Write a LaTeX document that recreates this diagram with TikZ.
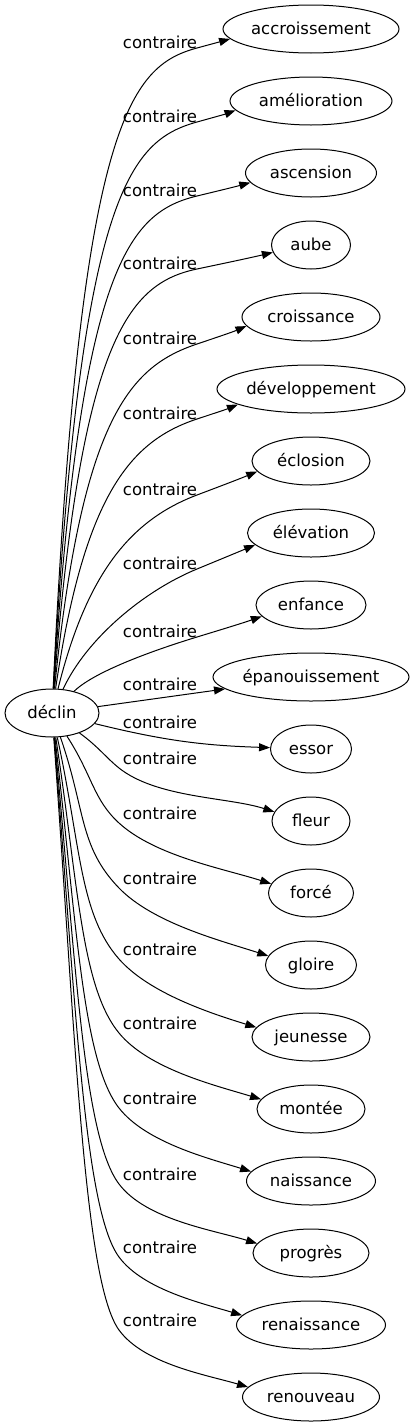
\documentclass[tikz,border=0pt]{standalone}
\usepackage{fontspec}
\setmainfont{DejaVu Sans}
\usetikzlibrary{shapes.geometric,arrows.meta}
% upper edge: #1 target, #2 label y, #3 target y, #4 target width, #5 tip offset below centre
\newcommand\upedge[5]{%
 \pgfmathsetmacro\eMy{#2+7}%
 \pgfmathsetmacro\eD{689-\eMy}%
 \pgfmathsetmacro\eSx{55+40*exp(-\eD/120)}%
 \pgfmathsetmacro\eAl{atan(\eD/40)}%
 \pgfmathsetmacro\eFr{max(0.44,0.9-0.46*exp(-(\eD-122)/150))}%
 \pgfmathsetmacro\eLa{\eFr*\eD}%
 \pgfmathsetmacro\eCax{\eSx+min(25,\eLa*cos(\eAl))}%
 \pgfmathsetmacro\eCay{689-\eLa*sin(\eAl)}%
 \pgfmathsetmacro\eAx{311-sqrt(1-(#5/24.5)^2)*(#4/2+0.5)}%
 \pgfmathsetmacro\eAy{#3+#5}%
 \pgfmathtruncatemacro\eAng{180+atan(#5/(311-\eAx))}%
 \pgfmathsetmacro\eTh{min(28,atan((\eMy-\eAy)/(\eAx-197)))}%
 \pgfmathsetmacro\eLb{min(70,0.25*\eD+28)}%
 \pgfmathsetmacro\eCbx{197-\eLb*cos(\eTh)}%
 \pgfmathsetmacro\eCby{\eMy+\eLb*sin(\eTh)}%
 \pgfmathsetmacro\eLL{veclen(\eAx-197,\eAy-\eMy)}%
 \pgfmathsetmacro\eCcx{197+0.33*\eLL*cos(\eTh)}%
 \pgfmathsetmacro\eCcy{\eMy-0.33*\eLL*sin(\eTh)}%
 \pgfmathsetmacro\eCdx{\eAx-0.3*\eLL*cos(\eTh)}%
 \pgfmathsetmacro\eCdy{\eAy+0.3*\eLL*sin(\eTh)}%
 \coordinate (m#1) at (197,\eMy);
 \draw[edge] (declin) .. controls (\eCax,\eCay) and (\eCbx,\eCby) .. (m#1)
   .. controls (\eCcx,\eCcy) and (\eCdx,\eCdy) .. (#1.\eAng);
 \node[lab] (l#1) at (160,#2+1.5) {contraire};
}
% lower edge
\newcommand\downedge[4]{%
 \pgfmathsetmacro\eMy{#2+11}%
 \pgfmathsetmacro\eD{\eMy-737}%
 \pgfmathsetmacro\eSx{55+40*exp(-\eD/120)}%
 \pgfmathsetmacro\eAl{atan(\eD/40)}%
 \pgfmathsetmacro\eLa{0.5*\eD}%
 \pgfmathsetmacro\eCax{\eSx+min(25,\eLa*cos(\eAl))}%
 \pgfmathsetmacro\eCay{737+\eLa*sin(\eAl)}%
 \pgfmathsetmacro\eBe{40+15*(1-exp(-(\eD-50)/200))}%
 \pgfmathsetmacro\eLb{min(60,0.35*\eD+5)}%
 \pgfmathsetmacro\eCbx{119-\eLb*cos(\eBe)}%
 \pgfmathsetmacro\eCby{\eMy-\eLb*sin(\eBe)}%
 \pgfmathsetmacro\eAx{311-0.927*(#4/2+0.5)}%
 \pgfmathsetmacro\eAy{#3-9}%
 \pgfmathtruncatemacro\eAng{180-atan(9/(311-\eAx))}%
 \pgfmathsetmacro\eLL{veclen(\eAx-119,\eAy-\eMy)}%
 \pgfmathsetmacro\eCcx{119+0.3*\eLL*cos(\eBe)}%
 \pgfmathsetmacro\eCcy{\eMy+0.3*\eLL*sin(\eBe)}%
 \pgfmathsetmacro\eCdx{\eAx-0.3*\eLL*cos(18)}%
 \pgfmathsetmacro\eCdy{\eAy-0.3*\eLL*sin(18)}%
 \coordinate (m#1) at (119,\eMy);
 \draw[edge] (declin) .. controls (\eCax,\eCay) and (\eCbx,\eCby) .. (m#1)
   .. controls (\eCcx,\eCcy) and (\eCdx,\eCdy) .. (#1.\eAng);
 \node[lab] (l#1) at (160,#2+1.5) {contraire};
}
\begin{document}
\begin{tikzpicture}[x=1pt,y=-1pt,
  font=\fontsize{16.5}{19}\selectfont,
  term/.style={ellipse,draw,line width=1pt,minimum height=48pt,inner sep=0pt,
    text height=14pt,text depth=3pt},
  lab/.style={inner sep=0pt,text height=14pt,text depth=3pt},
  edge/.style={line width=1pt,-{Triangle[length=11pt,width=8pt]}}]
\useasboundingbox (0,0) rectangle (415,1427);
\node[term,minimum width=94] (declin) at (52,713) {\makebox[0pt]{déclin}};
\node[term,minimum width=176] (acc) at (311,29) {\makebox[0pt]{accroissement}};
\node[term,minimum width=162] (ame) at (311,101) {\makebox[0pt]{amélioration}};
\node[term,minimum width=131] (asc) at (311,173) {\makebox[0pt]{ascension}};
\node[term,minimum width=79] (aub) at (311,245) {\makebox[0pt]{aube}};
\node[term,minimum width=138] (cro) at (311,317) {\makebox[0pt]{croissance}};
\node[term,minimum width=188] (dev) at (311,389) {\makebox[0pt]{développement}};
\node[term,minimum width=118] (ecl) at (311,461) {\makebox[0pt]{éclosion}};
\node[term,minimum width=127] (ele) at (311,533) {\makebox[0pt]{élévation}};
\node[term,minimum width=110] (enf) at (311,605) {\makebox[0pt]{enfance}};
\node[term,minimum width=196] (epa) at (311,677) {\makebox[0pt]{épanouissement}};
\node[term,minimum width=81] (ess) at (311,749) {\makebox[0pt]{essor}};
\node[term,minimum width=78] (fle) at (311,821) {\makebox[0pt]{fleur}};
\node[term,minimum width=85] (forc) at (311,893) {\makebox[0pt]{forcé}};
\node[term,minimum width=91] (glo) at (311,965) {\makebox[0pt]{gloire}};
\node[term,minimum width=118] (jeu) at (311,1037) {\makebox[0pt]{jeunesse}};
\node[term,minimum width=108] (mon) at (311,1109) {\makebox[0pt]{montée}};
\node[term,minimum width=129] (nai) at (311,1181) {\makebox[0pt]{naissance}};
\node[term,minimum width=116] (pro) at (311,1253) {\makebox[0pt]{progrès}};
\node[term,minimum width=149] (ren) at (311,1325) {\makebox[0pt]{renaissance}};
\node[term,minimum width=137] (reno) at (311,1397) {\makebox[0pt]{renouveau}};
\upedge{acc}{41}{29}{176}{10}
\upedge{ame}{115}{101}{162}{10}
\upedge{asc}{189}{173}{131}{10}
\upedge{aub}{262}{245}{79}{8}
\upedge{cro}{337}{317}{138}{10}
\upedge{dev}{412}{389}{188}{16}
\upedge{ecl}{488}{461}{118}{11}
\upedge{ele}{562}{533}{127}{12}
\upedge{enf}{630}{605}{110}{12}
\draw[edge] (declin) -- (epa);
\node[lab] (lepa) at (160,684.5) {contraire};
\draw[edge] (declin) to[bend right=6] (ess);
\node[lab] (less) at (160,722.5) {contraire};
\downedge{fle}{757}{821}{78}
\downedge{forc}{812}{893}{85}
\downedge{glo}{877}{965}{91}
\downedge{jeu}{948}{1037}{118}
\downedge{mon}{1022}{1109}{108}
\downedge{nai}{1097}{1181}{129}
\downedge{pro}{1173}{1253}{116}
\downedge{ren}{1246}{1325}{149}
\downedge{reno}{1319}{1397}{137}
\end{tikzpicture}
\end{document}
